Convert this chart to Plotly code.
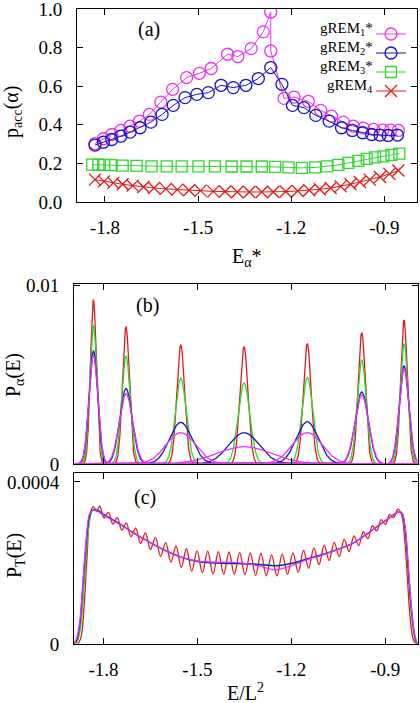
import numpy as np
import plotly.graph_objects as go

# ---------------- Panel (a): acceptance probabilities ----------------
e_grem1 = [-1.832, -1.805, -1.778, -1.749, -1.719, -1.689, -1.657, -1.620, -1.582, -1.537,
           -1.496, -1.458, -1.405, -1.372, -1.329, -1.290, -1.266, -1.266, -1.223, -1.191,
           -1.145, -1.105, -1.070, -1.032, -1.000, -0.968, -0.935, -0.905, -0.880, -0.855]
p_grem1 = [0.303, 0.328, 0.350, 0.371, 0.393, 0.419, 0.454, 0.518, 0.584, 0.645,
           0.667, 0.692, 0.766, 0.754, 0.795, 0.882, 0.985, 0.783, 0.537, 0.544,
           0.522, 0.475, 0.445, 0.414, 0.393, 0.383, 0.376, 0.373, 0.373, 0.371]

e_grem2 = [-1.832, -1.805, -1.778, -1.749, -1.719, -1.687, -1.652, -1.616, -1.580, -1.542,
           -1.504, -1.467, -1.426, -1.387, -1.346, -1.306, -1.266, -1.230, -1.196, -1.159,
           -1.121, -1.078, -1.038, -1.003, -0.970, -0.941, -0.914, -0.888, -0.858]
p_grem2 = [0.295, 0.310, 0.324, 0.341, 0.362, 0.385, 0.414, 0.454, 0.501, 0.541,
           0.558, 0.567, 0.605, 0.593, 0.605, 0.640, 0.697, 0.610, 0.501, 0.489,
           0.449, 0.419, 0.385, 0.371, 0.359, 0.350, 0.347, 0.345, 0.347]

e_grem3 = [-1.841, -1.821, -1.802, -1.781, -1.743, -1.698, -1.650, -1.601, -1.553, -1.499,
           -1.446, -1.392, -1.344, -1.295, -1.252, -1.209, -1.166, -1.123, -1.085, -1.048,
           -1.016, -0.984, -0.957, -0.930, -0.903, -0.877, -0.852]
p_grem3 = [0.194, 0.194, 0.192, 0.191, 0.189, 0.187, 0.185, 0.185, 0.185, 0.185,
           0.185, 0.184, 0.184, 0.184, 0.182, 0.179, 0.177, 0.179, 0.185, 0.192,
           0.203, 0.213, 0.224, 0.231, 0.237, 0.244, 0.251]

e_grem4 = [-1.832, -1.803, -1.773, -1.743, -1.711, -1.676, -1.642, -1.604, -1.567, -1.529,
           -1.492, -1.451, -1.413, -1.374, -1.335, -1.295, -1.258, -1.218, -1.179, -1.142,
           -1.108, -1.073, -1.041, -1.009, -0.979, -0.947, -0.914, -0.884, -0.855]
p_grem4 = [0.116, 0.107, 0.099, 0.092, 0.085, 0.078, 0.073, 0.068, 0.064, 0.061,
           0.059, 0.055, 0.054, 0.052, 0.052, 0.052, 0.052, 0.054, 0.057, 0.061,
           0.066, 0.073, 0.081, 0.092, 0.104, 0.116, 0.130, 0.146, 0.163]

legend_labels = ["gREM<sub>1</sub>*", "gREM<sub>2</sub>*", "gREM<sub>3</sub>*", "gREM<sub>4</sub>"]

# ---------------- Panel (b): selected replica energy distributions (peak centre, height, width) ----------------
pb_centres = [-1.832, -1.728, -1.553, -1.351, -1.149, -0.975, -0.840]
pb_red_h = [0.0092, 0.0077, 0.00667, 0.00657, 0.00674, 0.00737, 0.00808]
pb_red_w = [0.0095, 0.011, 0.0125, 0.013, 0.0125, 0.0115, 0.0105]
pb_green_h = [0.00775, 0.00606, 0.00481, 0.00455, 0.00485, 0.00584, 0.00674]
pb_green_w = [0.0113, 0.0139, 0.0173, 0.0188, 0.0174, 0.0145, 0.0126]
pb_blue_h = [0.00636, 0.00424, 0.00234, 0.00176, 0.00237, 0.00404, 0.0055]
pb_blue_w = [0.0137, 0.0199, 0.0356, 0.0486, 0.0351, 0.021, 0.0154]
pb_mag_h = [0.0061, 0.00394, 0.00176, 0.00097, 0.00176, 0.00387, 0.00535]
pb_mag_w = [0.0144, 0.0214, 0.0474, 0.088, 0.0479, 0.0219, 0.0158]

# ---------------- Panel (c): total energy distributions (units of 1e-4) ----------------
pc_x = [-1.895, -1.885, -1.875, -1.865, -1.855, -1.845, -1.835, -1.82, -1.80, -1.75, -1.70, -1.65,
        -1.60, -1.55, -1.50, -1.45, -1.40, -1.35, -1.30, -1.25, -1.20, -1.15, -1.10, -1.05,
        -1.00, -0.95, -0.90, -0.87, -0.855, -0.845, -0.835, -0.825, -0.815, -0.805, -0.797]
pc_blue = [0, 0.1, 0.5, 1.5, 2.5, 3.15, 3.3, 3.3, 3.2, 2.97, 2.72, 2.5,
           2.3, 2.14, 2.04, 2.0, 1.99, 1.98, 1.96, 1.93, 1.99, 2.1, 2.21, 2.34,
           2.5, 2.76, 3.04, 3.2, 3.27, 3.2, 2.74, 1.69, 0.74, 0.16, 0]
pc_green = [0, 0.05, 0.3, 1.1, 2.2, 3.0, 3.3, 3.32, 3.2, 2.97, 2.73, 2.5,
            2.3, 2.14, 2.04, 2.0, 1.98, 1.98, 1.97, 1.94, 1.99, 2.09, 2.2, 2.33,
            2.5, 2.76, 3.05, 3.22, 3.28, 3.18, 2.65, 1.55, 0.6, 0.1, 0]
pc_mag = [0, 0.15, 0.6, 1.6, 2.6, 3.2, 3.3, 3.28, 3.18, 2.96, 2.72, 2.5,
          2.3, 2.14, 2.05, 2.02, 2.02, 1.99, 1.92, 1.83, 1.93, 2.08, 2.2, 2.34,
          2.5, 2.76, 3.04, 3.2, 3.27, 3.22, 2.8, 1.8, 0.8, 0.2, 0]
# gREM4: oscillating curve, described by its edges, maxima and minima
pc_red_edge_x = [-1.882, -1.872, -1.862, -1.852, -1.843, -0.848, -0.838, -0.829, -0.82, -0.81, -0.80]
pc_red_edge_y = [0, 0.15, 0.9, 2.2, 3.2, 3.2, 2.6, 1.6, 0.6, 0.1, 0]
pc_red_max_x = [-1.832, -1.812, -1.784, -1.756, -1.727, -1.697, -1.666, -1.634, -1.601, -1.568,
                -1.535, -1.501, -1.467, -1.433, -1.399, -1.365, -1.331, -1.297, -1.263, -1.229,
                -1.195, -1.161, -1.128, -1.095, -1.063, -1.031, -1.000, -0.970, -0.941, -0.913,
                -0.886, -0.860]
pc_red_max_y = [3.39, 3.40, 3.25, 3.12, 2.99, 2.86, 2.74, 2.63, 2.50, 2.42,
                2.35, 2.30, 2.29, 2.28, 2.27, 2.26, 2.25, 2.24, 2.20, 2.22,
                2.25, 2.31, 2.37, 2.44, 2.51, 2.58, 2.67, 2.77, 2.92, 3.07,
                3.20, 3.33]
pc_red_min_x = [-1.822, -1.798, -1.770, -1.7415, -1.712, -1.6815, -1.650, -1.6175, -1.5845, -1.5515,
                -1.518, -1.484, -1.450, -1.416, -1.382, -1.348, -1.314, -1.280, -1.246, -1.212,
                -1.178, -1.1445, -1.1115, -1.079, -1.047, -1.0155, -0.985, -0.9555, -0.927, -0.8995,
                -0.873]
pc_red_min_y = [3.27, 3.11, 2.96, 2.81, 2.65, 2.48, 2.33, 2.16, 2.02, 1.89,
                1.80, 1.76, 1.73, 1.72, 1.72, 1.71, 1.69, 1.68, 1.68, 1.72,
                1.77, 1.87, 1.96, 2.06, 2.16, 2.28, 2.43, 2.60, 2.79, 2.95,
                3.12]
PC_UNIT = 1e-4

x_ticks = [-1.8, -1.5, -1.2, -0.9]
x_ticktext = ["-1.8", "-1.5", "-1.2", "-0.9"]

# ---------------- styling ----------------
W, H = 420, 703
C_MAG = "#ee30ee"
C_BLUE = "#1414c8"
C_GREEN = "#2ed82e"
C_RED = "#e01a1a"
FONT = "Liberation Serif, Times New Roman, serif"


def px(v):
    return v / W


def py(v):
    return 1 - v / H


fig = go.Figure()

legend_ids = ["legend", "legend2", "legend3", "legend4"]
series_a = [
    (e_grem1, p_grem1, C_MAG, "circle-open", 12),
    (e_grem2, p_grem2, C_BLUE, "circle-open", 12),
    (e_grem3, p_grem3, C_GREEN, "square-open", 11),
    (e_grem4, p_grem4, C_RED, "x-thin-open", 12),
]
for (xs, ys, col, sym, sz), lid in zip(series_a, legend_ids):
    fig.add_trace(go.Scatter(
        x=xs, y=ys, mode="lines+markers", name=" ", xaxis="x", yaxis="y",
        line=dict(color=col, width=1),
        marker=dict(symbol=sym, size=sz, color=col, line=dict(color=col, width=1.3)),
        showlegend=True, legend=lid))

# panel (b)
xg = np.linspace(-1.894, -0.797, 1600)
for hs, ws, col in [(pb_red_h, pb_red_w, C_RED), (pb_green_h, pb_green_w, C_GREEN),
                    (pb_blue_h, pb_blue_w, C_BLUE), (pb_mag_h, pb_mag_w, C_MAG)]:
    for c, h, w in zip(pb_centres, hs, ws):
        yg = h * np.exp(-0.5 * ((xg - c) / w) ** 2)
        fig.add_trace(go.Scatter(x=xg, y=yg, mode="lines", xaxis="x2", yaxis="y2",
                                 line=dict(color=col, width=1.3), showlegend=False))

# panel (c)
red_pts = sorted(zip(pc_red_edge_x + pc_red_max_x + pc_red_min_x,
                     pc_red_edge_y + pc_red_max_y + pc_red_min_y))
fig.add_trace(go.Scatter(x=[p[0] for p in red_pts], y=[p[1] * PC_UNIT for p in red_pts],
                         mode="lines", xaxis="x3", yaxis="y3", line=dict(color=C_RED, width=1.3, shape="spline"),
                         showlegend=False))
for ys, col in [(pc_green, C_GREEN), (pc_blue, C_BLUE), (pc_mag, C_MAG)]:
    fig.add_trace(go.Scatter(x=pc_x, y=[v * PC_UNIT for v in ys], mode="lines", xaxis="x3", yaxis="y3",
                             line=dict(color=col, width=1.3, shape="spline", smoothing=0.8),
                             showlegend=False))

axis_common = dict(showline=True, linecolor="black", linewidth=1, mirror="ticks",
                   ticks="inside", ticklen=6, tickcolor="black", tickwidth=1,
                   showgrid=False, zeroline=False, automargin=False, ticklabeloverflow="allow",
                   tickfont=dict(family=FONT, size=19, color="black"))

row_y = [29, 48, 67, 86]
legend_layout = {}
for lid, ry in zip(legend_ids, row_y):
    legend_layout[lid] = dict(x=px(371), y=py(ry - 9.5), xanchor="left", yanchor="top",
                              bgcolor="rgba(0,0,0,0)", borderwidth=0, font=dict(family=FONT, size=12),
                              itemwidth=30)

fig.update_layout(
    template="none",
    width=W, height=H, margin=dict(l=0, r=0, t=0, b=0, pad=0, autoexpand=False),
    paper_bgcolor="white", plot_bgcolor="white",
    font=dict(family=FONT, color="black"),
    xaxis=dict(domain=[px(77), px(417)], range=[-1.89, -0.795], anchor="y",
               tickvals=x_ticks, ticktext=x_ticktext, ticklabelstandoff=8, **axis_common),
    yaxis=dict(domain=[py(202), py(9)], range=[0, 1.0005], anchor="x",
               tickvals=[0, 0.2, 0.4, 0.6, 0.8, 1.0],
               ticktext=["0.0", "0.2", "0.4", "0.6", "0.8", "1.0"], ticklabelstandoff=10, **axis_common),
    xaxis2=dict(domain=[px(74), px(417.5)], range=[-1.894, -0.797], anchor="y2",
                tickvals=x_ticks, showticklabels=False, **axis_common),
    yaxis2=dict(domain=[py(464), py(284)], range=[0, 0.0101], anchor="x2",
                tickvals=[0, 0.01], ticktext=["0", "0.01"], ticklabelstandoff=10, **axis_common),
    xaxis3=dict(domain=[px(74), px(417.5)], range=[-1.894, -0.797], anchor="y3",
                tickvals=x_ticks, ticktext=x_ticktext, ticklabelstandoff=8, **axis_common),
    yaxis3=dict(domain=[py(644), py(473)], range=[0, 0.000422], anchor="x3",
                tickvals=[0, 0.0004], ticktext=["0", "0.0004"], ticklabelstandoff=10, **axis_common),
    **legend_layout,
)

annotations = [
    dict(text="(a)", x=px(149), y=py(30)),
    dict(text="(b)", x=px(147), y=py(306)),
    dict(text="(c)", x=px(145), y=py(497)),
]
for a in annotations:
    a.update(xref="paper", yref="paper", showarrow=False, font=dict(family=FONT, size=20, color="black"),
             xanchor="center", yanchor="middle")

for lab, ry in zip(legend_labels, row_y):
    annotations.append(dict(text=lab, x=px(375), y=py(ry), xref="paper", yref="paper", showarrow=False,
                            xanchor="right", yanchor="middle", font=dict(family=FONT, size=15, color="black")))

titles = [
    dict(text="p<sub>acc</sub>(α)", x=px(12), y=py(112), textangle=-90),
    dict(text="P<sub>α</sub>(E)", x=px(15), y=py(375), textangle=-90),
    dict(text="P<sub>T</sub>(E)", x=px(15), y=py(556), textangle=-90),
    dict(text="E<sub>α</sub>*", x=px(247), y=py(257), textangle=0),
    dict(text="E/L<sup>2</sup>", x=px(245), y=py(692), textangle=0),
]
for t in titles:
    t.update(xref="paper", yref="paper", showarrow=False, xanchor="center", yanchor="middle",
             font=dict(family=FONT, size=20, color="black"))
annotations += titles
fig.update_layout(annotations=annotations)

fig.write_html("out.html", config={"displayModeBar": False},
               post_script="document.body.style.margin='0';document.body.style.overflow='hidden';")
